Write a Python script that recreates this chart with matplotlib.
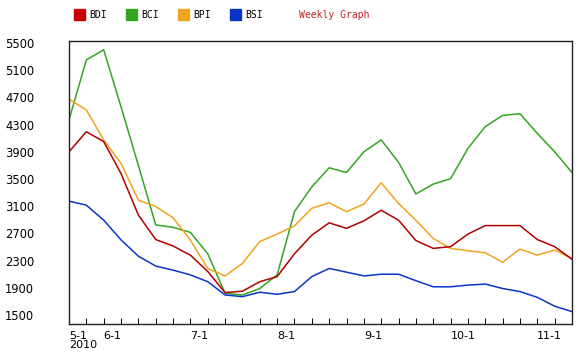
import numpy as np
import matplotlib
matplotlib.use('Agg')
import matplotlib.pyplot as plt
from matplotlib.patches import Rectangle

# weekly index values
bdi = [3900, 4195, 4050, 3580, 2970, 2610, 2515, 2380, 2140, 1830,
       1850, 1990, 2065, 2400, 2675, 2855, 2775, 2885, 3040, 2895,
       2595, 2480, 2505, 2690, 2815, 2815, 2815, 2610, 2505, 2320]
bci = [4370, 5250, 5400, 4560, 3700, 2825, 2790, 2715, 2400, 1820,
       1795, 1890, 2090, 3020, 3385, 3665, 3595, 3900, 4075, 3745,
       3280, 3425, 3505, 3950, 4270, 4435, 4460, 4170, 3900, 3595]
bpi = [4675, 4515, 4075, 3730, 3190, 3095, 2930, 2600, 2185, 2075,
       2260, 2580, 2690, 2810, 3070, 3150, 3020, 3130, 3445, 3140,
       2895, 2625, 2480, 2445, 2415, 2275, 2470, 2380, 2455, 2330]
bsi = [3175, 3115, 2895, 2605, 2365, 2220, 2160, 2090, 1990, 1795,
       1770, 1835, 1805, 1845, 2065, 2185, 2130, 2075, 2100, 2100,
       2005, 1915, 1915, 1940, 1955, 1890, 1845, 1760, 1630, 1550]

month_pos = [0, 2, 7, 12, 17, 22, 27]
month_labels = ['5-1\n2010', '6-1', '7-1', '8-1', '9-1', '10-1', '11-1']
y_ticks = [1500, 1900, 2300, 2700, 3100, 3500, 3900, 4300, 4700, 5100, 5500]

series = [('BCI', bci, '#33a521'), ('BPI', bpi, '#f0a31e'),
          ('BDI', bdi, '#b00000'), ('BSI', bsi, '#0a35c8')]
legend_order = ['BDI', 'BCI', 'BPI', 'BSI']
legend_cols = {'BDI': '#c80000', 'BCI': '#33a521', 'BPI': '#f0a31e', 'BSI': '#0a35c8'}

fig = plt.figure(figsize=(5.8, 3.53), dpi=100)
ax = fig.add_axes([69 / 580, 29 / 353, 503 / 580, 283 / 353])

x = np.arange(len(bdi))
for name, vals, col in series:
    ax.plot(x, vals, color=col, lw=1.1)

ax.set_xlim(0, len(bdi) - 1)
ax.set_ylim(1368, 5529)

ax.set_yticks(y_ticks)
ax.set_yticklabels([str(v) for v in y_ticks], ha='left')
# labels start near the left edge of the figure, no tick marks
ax.tick_params(axis='y', length=0, pad=46, labelsize=8.3)

ax.set_xticks(x, minor=True)
ax.set_xticks(month_pos)
ax.set_xticklabels(month_labels, ha='left', va='top', linespacing=0.85)
ax.tick_params(axis='x', which='both', direction='in', length=4, width=0.7,
               labelsize=8, pad=5)

for sp in ax.spines.values():
    sp.set_linewidth(1.0)
    sp.set_color('#222222')

# legend across the top
xs = [74, 126, 178, 230]
for name, px in zip(legend_order, xs):
    fig.patches.append(Rectangle((px / 580, 1 - 20 / 353), 11 / 580, 11 / 353,
                                 transform=fig.transFigure, color=legend_cols[name]))
    fig.text((px + 15) / 580, 1 - 15 / 353, name, fontsize=7, va='center',
             family='DejaVu Sans Mono')
fig.text(299 / 580, 1 - 15 / 353, 'Weekly Graph', fontsize=7, va='center',
         color='#c02020', family='DejaVu Sans Mono')

fig.savefig('out.png', dpi=100)
